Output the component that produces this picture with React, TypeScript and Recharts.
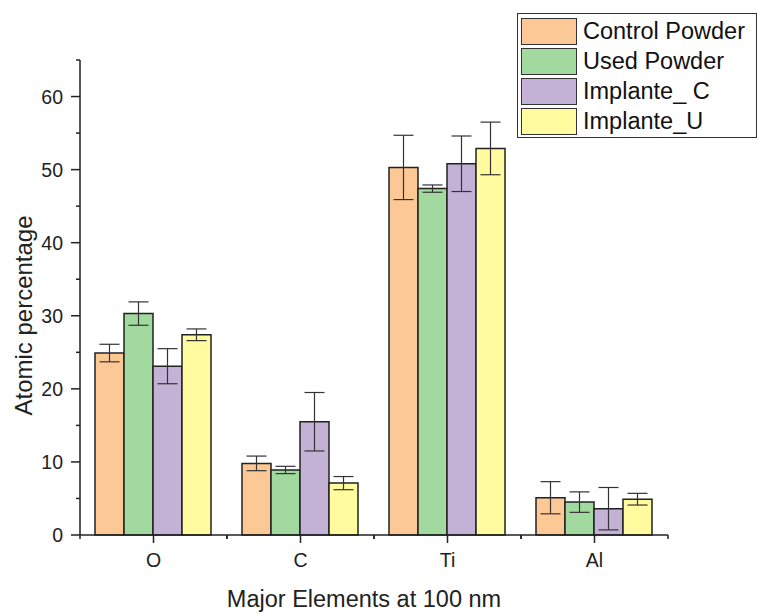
import { BarChart, Bar, XAxis, YAxis, ErrorBar } from 'recharts';

const elements = ['O', 'C', 'Ti', 'Al'];
const seriesNames = ['Control Powder', 'Used Powder', 'Implante_ C', 'Implante_U'];
const seriesColors = ['#fcc896', '#a1d99e', '#c3b1d6', '#fffb9e'];

const controlPowder = [24.9, 9.8, 50.3, 5.1];
const controlPowderErr = [1.2, 1.0, 4.4, 2.2];
const usedPowder = [30.3, 8.9, 47.4, 4.5];
const usedPowderErr = [1.6, 0.5, 0.5, 1.4];
const implanteC = [23.1, 15.5, 50.8, 3.6];
const implanteCErr = [2.4, 4.0, 3.8, 2.9];
const implanteU = [27.4, 7.1, 52.9, 4.9];
const implanteUErr = [0.8, 0.9, 3.6, 0.8];

const yTicks = [0, 5, 10, 15, 20, 25, 30, 35, 40, 45, 50, 55, 60, 65];

const data = elements.map((el, i) => ({
    element: el,
    s0: controlPowder[i],
    e0: controlPowderErr[i],
    s1: usedPowder[i],
    e1: usedPowderErr[i],
    s2: implanteC[i],
    e2: implanteCErr[i],
    s3: implanteU[i],
    e3: implanteUErr[i],
}));

const FONT = '"Liberation Sans", Arial, sans-serif';
const BAND = 147;

function XTick(props: any) {
    const { x, y, payload } = props;
    return (
        <g>
            <line x1={x} y1={y} x2={x} y2={y + 8} stroke="#222" strokeWidth={1.5} />
            <line x1={x - BAND / 2} y1={y} x2={x - BAND / 2} y2={y + 4} stroke="#222" strokeWidth={1.5} />
            <line x1={x + BAND / 2} y1={y} x2={x + BAND / 2} y2={y + 4} stroke="#222" strokeWidth={1.5} />
            <text x={x} y={y + 32} textAnchor="middle" fontSize={19.5} fill="#222" fontFamily={FONT}>
                {payload.value}
            </text>
        </g>
    );
}

function YTick(props: any) {
    const { x, y, payload } = props;
    const major = payload.value % 10 === 0;
    return (
        <g>
            <line x1={x} y1={y} x2={x - (major ? 9 : 4)} y2={y} stroke="#222" strokeWidth={1.5} />
            {major && (
                <text x={x - 17} y={y + 7} textAnchor="end" fontSize={19.5} fill="#222" fontFamily={FONT}>
                    {payload.value}
                </text>
            )}
        </g>
    );
}

function LegendBox() {
    return (
        <div
            style={{
                position: 'absolute',
                left: 517,
                top: 13,
                width: 240,
                height: 125,
                border: '1.5px solid #333',
                background: '#fff',
                padding: '2px 0 0 3px',
                fontFamily: FONT,
                boxSizing: 'border-box',
            }}
        >
            {seriesNames.map((name, i) => (
                <div key={name} style={{ display: 'flex', alignItems: 'center', height: 30 }}>
                    <div
                        style={{
                            width: 56,
                            height: 27,
                            background: seriesColors[i],
                            border: '1.5px solid #333',
                            boxSizing: 'border-box',
                        }}
                    />
                    <span style={{ marginLeft: 6, fontSize: 23.5, color: '#111', whiteSpace: 'nowrap' }}>{name}</span>
                </div>
            ))}
        </div>
    );
}

export default function App() {
    return (
        <div style={{ position: 'absolute', left: 0, top: 0, width: 757, height: 614, background: '#fff' }}>
            <BarChart
                width={757}
                height={614}
                data={data}
                margin={{ top: 60, right: 89, bottom: 5, left: 20 }}
                barCategoryGap={15}
                barGap={0}
            >
                <XAxis
                    dataKey="element"
                    height={74}
                    tickLine={false}
                    tickSize={0}
                    tickMargin={0}
                    axisLine={{ stroke: '#222', strokeWidth: 1.5 }}
                    tick={<XTick />}
                    interval={0}
                    label={{
                        value: 'Major Elements at 100 nm',
                        position: 'insideBottom',
                        offset: 2,
                        dx: -10,
                        fontSize: 23.5,
                        fill: '#222',
                        fontFamily: FONT,
                    }}
                />
                <YAxis
                    width={60}
                    domain={[0, 65]}
                    ticks={yTicks}
                    interval={0}
                    tickLine={false}
                    tickSize={0}
                    tickMargin={0}
                    axisLine={{ stroke: '#222', strokeWidth: 1.5 }}
                    tick={<YTick />}
                    label={{
                        value: 'Atomic percentage',
                        angle: -90,
                        position: 'insideLeft',
                        offset: 0,
                        dx: 3,
                        dy: 18,
                        fontSize: 24,
                        fill: '#222',
                        fontFamily: FONT,
                        style: { textAnchor: 'middle' },
                    }}
                />
                {[0, 1, 2, 3].map((i) => (
                    <Bar
                        key={i}
                        dataKey={`s${i}`}
                        name={seriesNames[i]}
                        fill={seriesColors[i]}
                        stroke="#222"
                        strokeWidth={1.5}
                        isAnimationActive={false}
                    >
                        <ErrorBar dataKey={`e${i}`} width={10} stroke="#333" strokeWidth={1.2} />
                    </Bar>
                ))}
            </BarChart>
            <LegendBox />
        </div>
    );
}
